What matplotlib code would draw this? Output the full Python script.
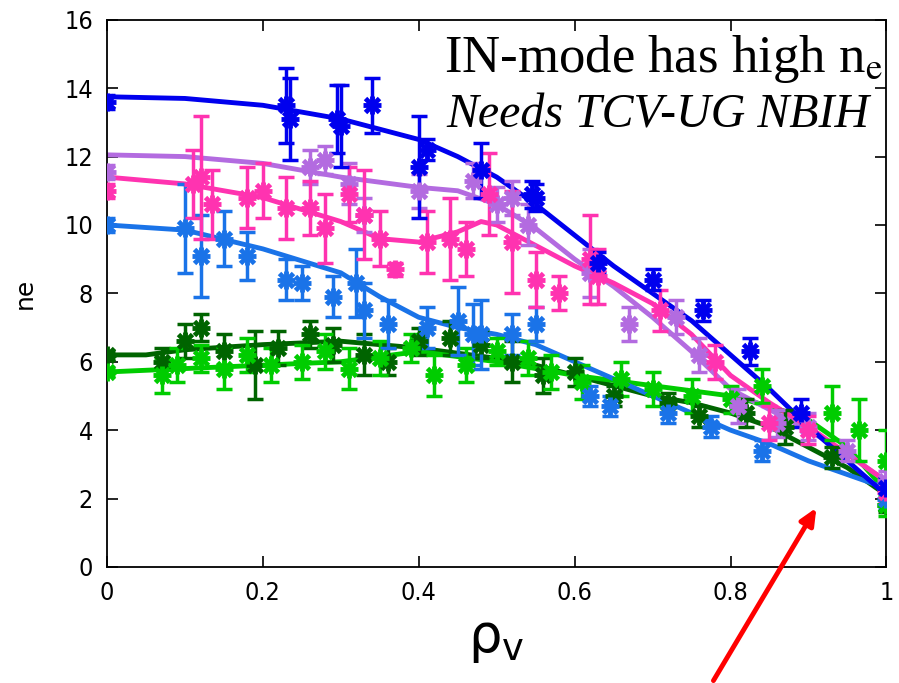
import matplotlib
matplotlib.use("Agg")
import matplotlib.pyplot as plt

# ---- data ----
# dark blue
blue_x = [0.0, 0.23, 0.235, 0.295, 0.30, 0.34, 0.40, 0.41, 0.48, 0.545, 0.55, 0.63, 0.70, 0.765, 0.825, 0.89, 1.0]
blue_y = [13.6, 13.5, 13.1, 13.1, 12.9, 13.5, 11.7, 12.2, 11.6, 10.9, 10.8, 8.9, 8.4, 7.5, 6.3, 4.5, 2.3]
blue_e = [0.2, 1.1, 1.2, 1.0, 1.2, 0.8, 1.5, 0.3, 0.8, 0.4, 0.4, 0.3, 0.3, 0.3, 0.4, 0.4, 0.3]
blue_fx = [0.0, 0.1, 0.2, 0.3, 0.4, 0.45, 0.5, 0.55, 0.6, 0.65, 0.7, 0.75, 0.8, 0.85, 0.9, 0.95, 1.0]
blue_fy = [13.75, 13.7, 13.5, 13.1, 12.5, 12.0, 11.4, 10.6, 9.7, 8.8, 8.0, 7.2, 6.2, 5.2, 4.1, 3.1, 2.1]

# lavender
lav_x = [0.0, 0.26, 0.28, 0.31, 0.33, 0.40, 0.47, 0.50, 0.52, 0.54, 0.62, 0.67, 0.73, 0.76, 0.81, 0.86, 0.90, 0.95, 1.0]
lav_y = [11.55, 11.7, 11.9, 11.2, 10.3, 11.0, 11.3, 10.6, 10.8, 10.0, 8.6, 7.1, 7.3, 6.2, 4.7, 4.2, 4.1, 3.4, 2.5]
lav_e = [0.2, 0.5, 0.4, 0.6, 0.5, 0.5, 0.5, 0.5, 0.5, 0.6, 0.7, 0.5, 0.5, 0.5, 0.5, 0.4, 0.4, 0.3, 0.3]
lav_fx = [0.0, 0.1, 0.2, 0.3, 0.4, 0.45, 0.5, 0.55, 0.6, 0.65, 0.7, 0.75, 0.8, 0.85, 0.9, 0.95, 1.0]
lav_fy = [12.05, 12.0, 11.8, 11.4, 11.1, 11.0, 10.6, 9.9, 9.0, 8.2, 7.3, 6.3, 5.2, 4.6, 4.0, 3.3, 2.5]

# pink
pink_x = [0.0, 0.11, 0.12, 0.135, 0.18, 0.20, 0.23, 0.26, 0.28, 0.31, 0.33, 0.35, 0.37, 0.41, 0.44, 0.46,
          0.49, 0.52, 0.55, 0.58, 0.62, 0.63, 0.71, 0.78, 0.85, 0.90, 1.0]
pink_y = [11.0, 11.2, 11.4, 10.6, 10.8, 11.0, 10.5, 10.5, 9.9, 10.9, 10.3, 9.6, 8.7, 9.5, 9.6, 9.3,
          10.9, 9.5, 8.4, 8.0, 9.0, 8.5, 7.5, 6.0, 4.2, 4.0, 2.2]
pink_e = [0.2, 1.0, 1.8, 1.0, 0.9, 0.8, 0.9, 0.8, 1.0, 0.8, 1.3, 0.8, 0.2, 0.9, 1.2, 0.8,
          1.2, 1.5, 0.8, 0.5, 1.3, 0.8, 0.6, 0.5, 0.5, 0.4, 0.3]
pink_fx = [0.0, 0.1, 0.2, 0.3, 0.35, 0.4, 0.45, 0.48, 0.5, 0.55, 0.6, 0.65, 0.7, 0.75, 0.8, 0.85, 0.9, 0.95, 1.0]
pink_fy = [11.4, 11.2, 10.8, 10.1, 9.6, 9.5, 9.8, 10.1, 10.0, 9.4, 8.8, 8.3, 7.7, 6.8, 5.6, 4.8, 4.1, 3.3, 2.5]

# light blue
lb_x = [0.0, 0.10, 0.12, 0.15, 0.18, 0.23, 0.25, 0.29, 0.32, 0.33, 0.36, 0.41, 0.45, 0.47, 0.48,
        0.52, 0.55, 0.62, 0.645, 0.72, 0.775, 0.84, 1.0]
lb_y = [10.0, 9.9, 9.1, 9.6, 9.1, 8.4, 8.3, 7.9, 8.3, 7.5, 7.1, 7.0, 7.2, 6.8, 6.8,
        6.8, 7.1, 5.0, 4.7, 4.5, 4.1, 3.4, 2.0]
lb_e = [0.2, 1.3, 1.2, 0.8, 0.7, 0.6, 0.5, 0.6, 1.0, 0.8, 0.7, 0.6, 1.0, 0.9, 1.0,
        0.6, 0.5, 0.3, 0.3, 0.3, 0.3, 0.3, 0.3]
lb_fx = [0.0, 0.1, 0.2, 0.3, 0.35, 0.4, 0.45, 0.5, 0.55, 0.6, 0.65, 0.7, 0.75, 0.8, 0.85, 0.9, 0.95, 1.0]
lb_fy = [10.0, 9.85, 9.3, 8.6, 7.9, 7.3, 7.0, 6.8, 6.5, 6.0, 5.5, 5.0, 4.5, 4.0, 3.6, 3.1, 2.7, 2.3]

# dark green
dg_x = [0.0, 0.07, 0.10, 0.12, 0.15, 0.19, 0.22, 0.26, 0.29, 0.33, 0.36, 0.40, 0.44, 0.48, 0.52, 0.56,
        0.60, 0.65, 0.72, 0.76, 0.82, 0.87, 0.93, 1.0]
dg_y = [6.2, 6.0, 6.6, 7.0, 6.3, 5.9, 6.4, 6.8, 6.5, 6.2, 6.0, 6.6, 6.7, 6.5, 6.0, 5.6,
        5.7, 5.0, 4.8, 4.4, 4.5, 4.1, 3.2, 1.8]
dg_e = [0.1, 0.4, 0.5, 0.4, 0.5, 1.0, 0.5, 0.4, 0.5, 0.6, 0.4, 0.4, 0.5, 0.4, 0.6, 0.5,
        0.4, 0.3, 0.3, 0.3, 0.4, 0.5, 0.3, 0.2]
dg_fx = [0.0, 0.05, 0.1, 0.2, 0.3, 0.4, 0.5, 0.55, 0.6, 0.65, 0.7, 0.75, 0.8, 0.85, 0.9, 0.95, 1.0]
dg_fy = [6.2, 6.2, 6.35, 6.5, 6.6, 6.4, 6.1, 5.9, 5.6, 5.3, 5.0, 4.8, 4.5, 4.1, 3.5, 2.9, 2.1]

# green
gr_x = [0.0, 0.07, 0.09, 0.12, 0.15, 0.18, 0.21, 0.25, 0.28, 0.31, 0.35, 0.39, 0.42, 0.46, 0.50, 0.54,
        0.57, 0.61, 0.66, 0.70, 0.75, 0.80, 0.84, 0.93, 0.965, 1.0, 1.0]
gr_y = [5.7, 5.6, 5.9, 6.1, 5.8, 6.2, 5.9, 6.0, 6.3, 5.8, 6.1, 6.4, 5.6, 5.9, 6.3, 6.1,
        5.7, 5.4, 5.5, 5.2, 5.0, 4.9, 5.3, 4.5, 4.0, 3.1, 1.8]
gr_e = [0.1, 0.5, 0.5, 0.4, 0.6, 0.5, 0.5, 0.5, 0.5, 0.6, 0.5, 0.4, 0.6, 0.5, 0.4, 0.5,
        0.5, 0.5, 0.5, 0.5, 0.5, 0.4, 0.5, 0.8, 0.9, 0.9, 0.3]
gr_fx = [0.0, 0.1, 0.2, 0.3, 0.4, 0.5, 0.55, 0.6, 0.65, 0.7, 0.75, 0.8, 0.85, 0.9, 0.95, 1.0]
gr_fy = [5.7, 5.8, 5.9, 6.0, 6.3, 6.0, 5.8, 5.6, 5.45, 5.3, 5.15, 5.0, 4.7, 4.3, 3.5, 2.2]

series = [
    (dg_x, dg_y, dg_e, dg_fx, dg_fy, "#006400"),
    (gr_x, gr_y, gr_e, gr_fx, gr_fy, "#00cc00"),
    (lb_x, lb_y, lb_e, lb_fx, lb_fy, "#1a73e8"),
    (lav_x, lav_y, lav_e, lav_fx, lav_fy, "#b36be0"),
    (pink_x, pink_y, pink_e, pink_fx, pink_fy, "#ff33b0"),
    (blue_x, blue_y, blue_e, blue_fx, blue_fy, "#0000ee"),
]

xticks = [0, 0.2, 0.4, 0.6, 0.8, 1]
xticklabels = ["0", "0.2", "0.4", "0.6", "0.8", "1"]
yticks = [0, 2, 4, 6, 8, 10, 12, 14, 16]

tickfont = ["Liberation Sans Narrow", "DejaVu Sans"]

fig = plt.figure(figsize=(8.99, 6.83), dpi=100)
ax = fig.add_axes([0.119, 0.170, 0.867, 0.801])

for x, y, e, fx, fy, c in series:
    ax.plot(fx, fy, color=c, lw=3.5, zorder=2)
    ax.errorbar(x, y, yerr=e, fmt="none", ecolor=c, elinewidth=2.5, capsize=6, capthick=2.5, zorder=3)
    ax.plot(x, y, ls="none", marker="+", ms=13, mew=3.5, color=c, zorder=4)
    ax.plot(x, y, ls="none", marker="x", ms=10, mew=3.5, color=c, zorder=4)

ax.set_xlim(0, 1)
ax.set_ylim(0, 16)
ax.set_xticks(xticks)
ax.set_xticklabels(xticklabels)
ax.set_yticks(yticks)
ax.tick_params(direction="in", length=8, width=1.2, top=True, right=True, labelsize=18, pad=10)
for lab in ax.get_xticklabels() + ax.get_yticklabels():
    lab.set_family(tickfont)
    lab.set_stretch("condensed")
for sp in ax.spines.values():
    sp.set_linewidth(1.3)

ax.set_xlabel(r"ρ$_\mathrm{v}$", fontsize=38, labelpad=6)
ax.set_ylabel("ne", fontsize=18, family=tickfont, labelpad=20)

ax.text(0.995, 0.975, r"IN-mode has high n$_\mathrm{e}$", transform=ax.transAxes, ha="right", va="top",
        fontsize=38, family="Liberation Serif", math_fontfamily="stix")
ax.text(0.978, 0.865, "Needs TCV-UG NBIH", transform=ax.transAxes, ha="right", va="top",
        fontsize=34.5, family="Liberation Serif", style="italic")

ax.annotate("", xy=(0.912, 1.8), xycoords="data", xytext=(0.792, 0.0), textcoords="figure fraction",
            arrowprops=dict(arrowstyle="-|>,head_length=1.0,head_width=0.45", color="red", lw=3.5),
            annotation_clip=False)

fig.savefig("out.png", dpi=100)
